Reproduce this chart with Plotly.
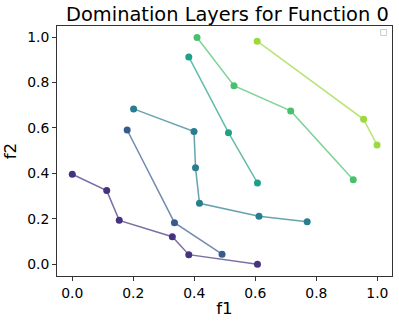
import plotly.graph_objects as go

# domination layers (f1, f2 per layer)
layer0_f1 = [0.000, 0.113, 0.154, 0.328, 0.382, 0.607]
layer0_f2 = [0.396, 0.324, 0.193, 0.121, 0.042, 0.000]
layer1_f1 = [0.180, 0.335, 0.491]
layer1_f2 = [0.591, 0.183, 0.044]
layer2_f1 = [0.201, 0.399, 0.404, 0.417, 0.612, 0.770]
layer2_f2 = [0.684, 0.584, 0.425, 0.268, 0.211, 0.187]
layer3_f1 = [0.382, 0.512, 0.607]
layer3_f2 = [0.913, 0.579, 0.358]
layer4_f1 = [0.409, 0.530, 0.716, 0.921]
layer4_f2 = [0.998, 0.786, 0.675, 0.372]
layer5_f1 = [0.606, 0.955, 0.999]
layer5_f2 = [0.982, 0.638, 0.525]

layers = [(layer0_f1, layer0_f2), (layer1_f1, layer1_f2), (layer2_f1, layer2_f2),
          (layer3_f1, layer3_f2), (layer4_f1, layer4_f2), (layer5_f1, layer5_f2)]
colors = ['#46337f', '#375b8d', '#287d8e', '#1fa187', '#48c16e', '#9bd93c']

tick_vals = [0.0, 0.2, 0.4, 0.6, 0.8, 1.0]
tick_text = ['0.0', '0.2', '0.4', '0.6', '0.8', '1.0']

fig = go.Figure()
for (xs, ys), c in zip(layers, colors):
    fig.add_trace(go.Scatter(x=xs, y=ys, mode='lines', line=dict(color=c, width=1.5),
                             opacity=0.7, showlegend=False, hoverinfo='skip'))
    fig.add_trace(go.Scatter(x=xs, y=ys, mode='markers', marker=dict(color=c, size=7),
                             showlegend=False))

axis_style = dict(showline=True, mirror=True, linecolor='#333333', linewidth=1,
                  ticks='outside', ticklen=4, tickcolor='#333333', showgrid=False,
                  zeroline=False, tickvals=tick_vals, ticktext=tick_text, automargin=False,
                  tickfont=dict(size=13.9, color='black'))

fig.update_layout(
    width=399, height=324,
    margin=dict(l=57, r=7, t=26, b=48),
    paper_bgcolor='white', plot_bgcolor='white',
    font=dict(family='DejaVu Sans', color='black'),
    title=dict(text='Domination Layers for Function 0', x=0.570, xanchor='center',
               y=0.955, yanchor='middle', font=dict(size=19.4)),
    xaxis=dict(range=[-0.050, 1.048], title=dict(text='f1', font=dict(size=16.7), standoff=2),
               **axis_style),
    yaxis=dict(range=[-0.052, 1.049], title=dict(text='f2', font=dict(size=16.7), standoff=8),
               **axis_style),
    # the empty legend box in the corner
    shapes=[dict(type='rect', xref='paper', yref='paper', x0=0.966, x1=0.984,
                 y0=0.962, y1=0.986, line=dict(color='#cccccc', width=1),
                 fillcolor='white')],
)

# page body has a default 8px margin; drop it so the figure sits at the corner
fig.write_html("out.html", config={'displayModeBar': False},
               post_script="document.body.style.margin='0';")
